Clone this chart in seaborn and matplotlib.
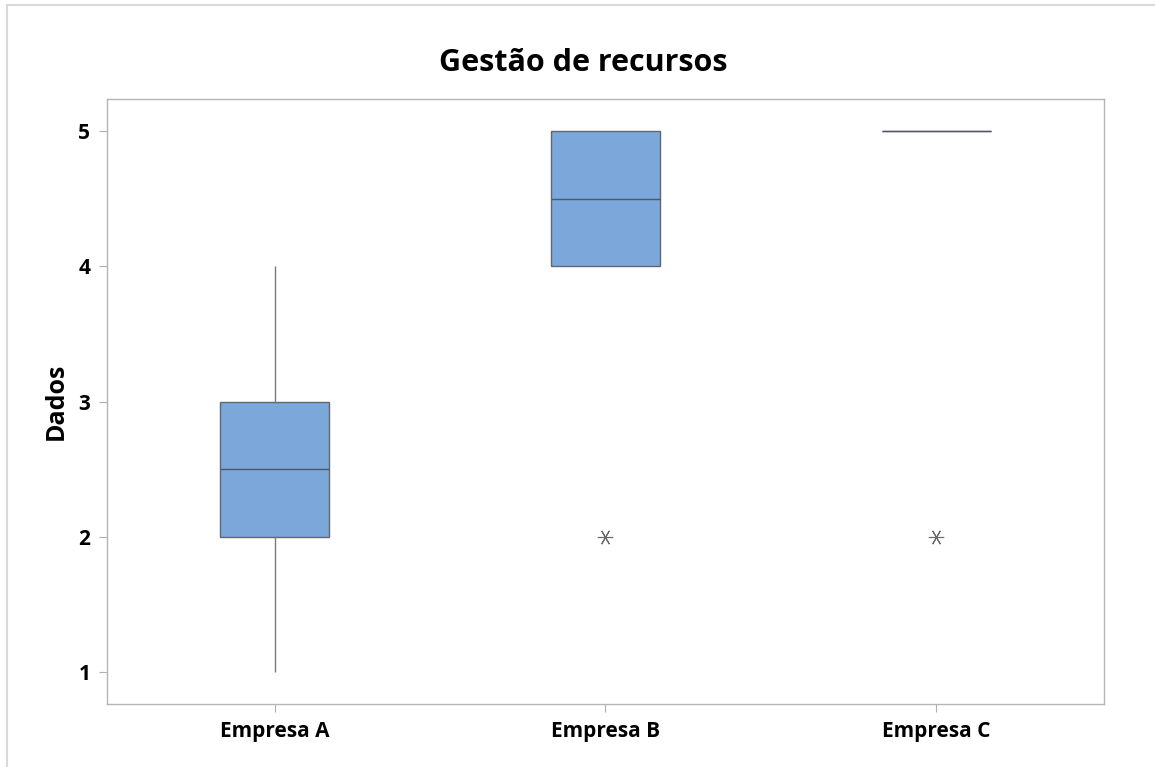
import matplotlib
matplotlib.use("Agg")
import matplotlib.pyplot as plt
import seaborn as sns
import pandas as pd
from matplotlib.patches import Rectangle

# raw answers per company (read from quartiles / whiskers / outliers)
empresa_a = [1, 2, 2, 2, 3, 3, 3, 4]
empresa_b = [2, 4, 4, 5, 5, 5]
empresa_c = [2, 5, 5, 5, 5, 5]
categorias = ["Empresa A", "Empresa B", "Empresa C"]

df = pd.DataFrame({
    "Empresa": ["Empresa A"] * len(empresa_a) + ["Empresa B"] * len(empresa_b) + ["Empresa C"] * len(empresa_c),
    "Dados": empresa_a + empresa_b + empresa_c,
})

sns.set_style("white")
plt.rcParams["font.family"] = ["Open Sans", "DejaVu Sans"]
plt.rcParams["text.color"] = "black"
plt.rcParams["axes.labelcolor"] = "black"
plt.rcParams["xtick.labelcolor"] = "black"
plt.rcParams["ytick.labelcolor"] = "black"

fig = plt.figure(figsize=(11.55, 7.67), dpi=100)
ax = fig.add_axes([0.0926, 0.0821, 0.8632, 0.7888])

sns.boxplot(
    data=df, x="Empresa", y="Dados", order=categorias, ax=ax,
    color="#7ba7da", saturation=1, width=0.33, linecolor="#606770", linewidth=1,
    showcaps=False,
    whiskerprops={"color": "#7a7a7a", "linewidth": 1},
    medianprops={"color": "#4f5866", "linewidth": 1},
    flierprops={"marker": (6, 2, 90), "markersize": 11, "markeredgecolor": "#6a6a6a",
                "markerfacecolor": "#6a6a6a", "markeredgewidth": 0.8},
)

ax.set_xlim(-0.507, 2.507)
ax.set_ylim(0.763, 5.237)
ax.set_yticks([1, 2, 3, 4, 5])
fig.text(0.505, 0.918, "Gestão de recursos", fontsize=22, fontweight="bold",
         ha="center", va="center", color="black")
ax.set_xlabel("")
ax.set_ylabel("Dados", fontsize=18, fontweight="bold", labelpad=7)
for lab in ax.get_xticklabels() + ax.get_yticklabels():
    lab.set_fontweight("bold")
    lab.set_fontsize(15)
ax.tick_params(axis="both", which="both", length=6, width=0.8, color="#b0b0b0", direction="out",
               left=True, bottom=True, pad=6)
for s in ax.spines.values():
    s.set_color("#b5b5b5")
    s.set_linewidth(1)

# light outer frame around the whole graph
fig.patches.append(Rectangle((0.006, -0.01), 1.0, 1.003, transform=fig.transFigure,
                             fill=False, edgecolor="#d9d9d9", linewidth=1.5))

fig.savefig("out.png", dpi=100)
